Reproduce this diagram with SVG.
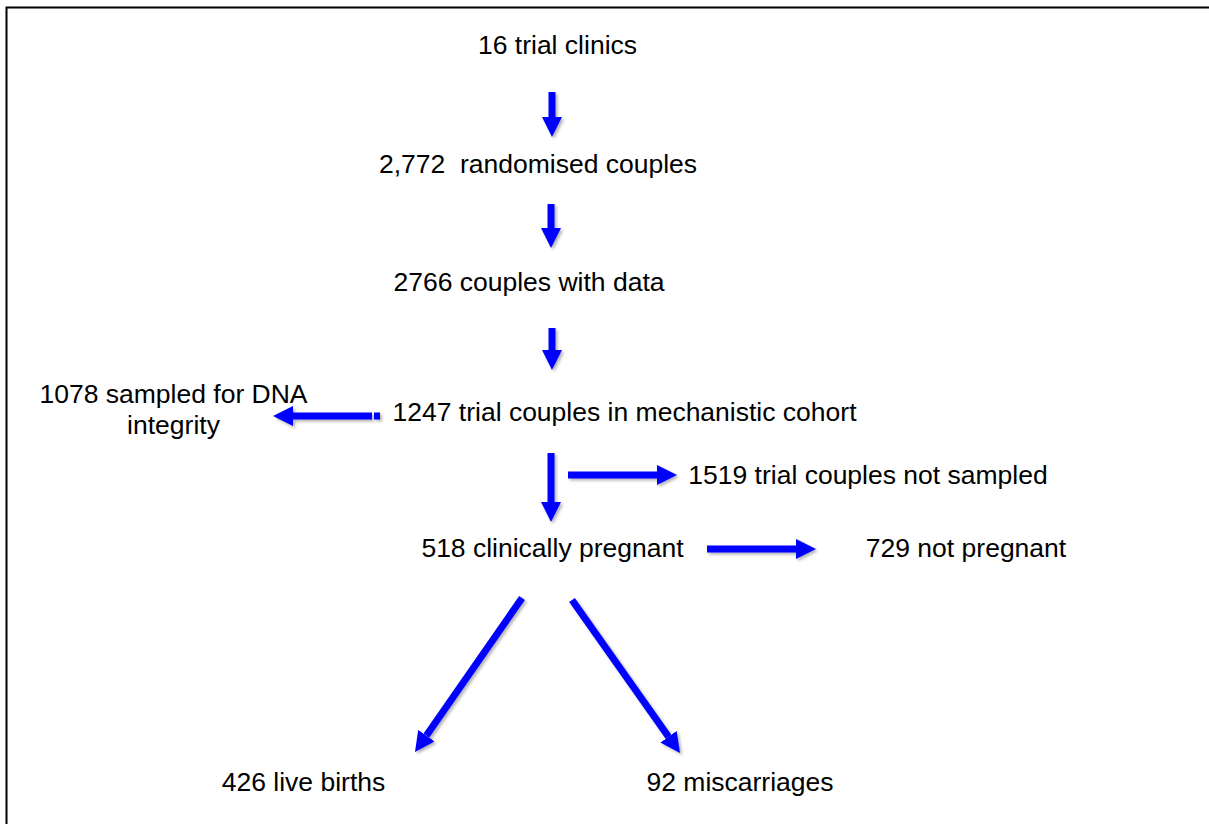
<svg xmlns="http://www.w3.org/2000/svg" width="1209" height="824" viewBox="0 0 1209 824">
<style>
text{font-family:"Liberation Sans",Arial,sans-serif;font-size:26.5px;fill:#000;text-anchor:middle}
.a{stroke:#0000ff;stroke-width:7;fill:none;marker-end:url(#ah)}
</style>
<defs>
<marker id="ah" viewBox="0 0 20 20" markerWidth="20" markerHeight="20" refX="0" refY="10" markerUnits="userSpaceOnUse" orient="auto">
<path d="M0,0 L20,10 L0,20 z" fill="#0000ff"/>
</marker>
<filter id="sh" x="-20%" y="-20%" width="140%" height="140%">
<feDropShadow dx="2" dy="2" stdDeviation="1.5" flood-color="#000" flood-opacity="0.3"/>
</filter>
</defs>
<rect width="1209" height="824" fill="#fff"/>
<path d="M6.5,830 L6.5,7.5 L1215,7.5" fill="none" stroke="#000" stroke-width="2"/>
<g id="n1"><text x="557.5" y="54">16 trial clinics</text></g>
<g id="n2"><text x="538" y="173" xml:space="preserve">2,772  randomised couples</text></g>
<g id="n3"><text x="529" y="291">2766 couples with data</text></g>
<g id="n4"><text x="624.5" y="421">1247 trial couples in mechanistic cohort</text></g>
<g id="n5"><text x="173.5" y="403">1078 sampled for DNA</text><text x="173.5" y="434">integrity</text></g>
<g id="n6"><text x="868" y="484">1519 trial couples not sampled</text></g>
<g id="n7"><text x="552.5" y="557">518 clinically pregnant</text></g>
<g id="n8"><text x="966" y="557">729 not pregnant</text></g>
<g id="n9"><text x="303.5" y="791">426 live births</text></g>
<g id="n10"><text x="740" y="791">92 miscarriages</text></g>
<g id="connectors" filter="url(#sh)">
<line class="a" x1="552" y1="92" x2="552" y2="117"/>
<line class="a" x1="551" y1="204" x2="551" y2="228"/>
<line class="a" x1="552" y1="328" x2="552" y2="350"/>
<line class="a" x1="372" y1="416" x2="293" y2="416"/>
<rect x="374" y="412.5" width="6" height="7" fill="#0000ff"/>
<line class="a" x1="551" y1="453" x2="551" y2="502"/>
<line class="a" x1="568" y1="475" x2="657" y2="475"/>
<line class="a" x1="707" y1="549" x2="796" y2="549"/>
<line class="a" x1="522" y1="598" x2="426.4" y2="735.6"/>
<line class="a" x1="572" y1="600" x2="668.5" y2="736.7"/>
</g>
</svg>
